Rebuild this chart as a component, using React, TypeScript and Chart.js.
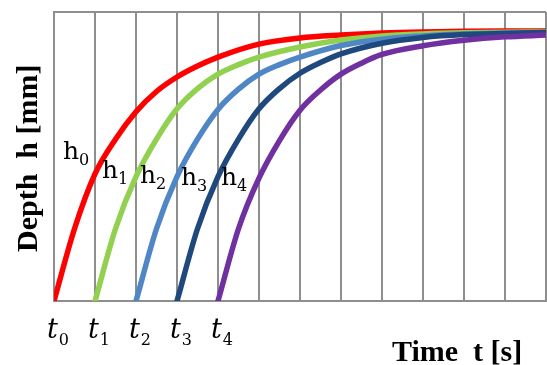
import React, { useEffect, useRef } from "react";
import { Chart, registerables } from "chart.js";

Chart.register(...registerables);

// Start times t0..t4 (grid units)
const startTimes = [0, 1, 2, 3, 4];
const subscripts = ["0", "1", "2", "3", "4"];

// Curve samples (time, depth as % of axis height)
const timesH0 = [0, 0.5, 1, 1.5, 2, 2.5, 3, 3.5, 4, 5, 6, 7, 8, 9, 10, 11, 12];
const depthH0 = [0, 25, 44, 56, 65.5, 72.5, 77.5, 81.3, 84.4, 88.9, 91.0, 92.0, 92.7, 93.1, 93.3, 93.4, 93.4];
const timesH1 = [1, 1.5, 2, 2.5, 3, 3.5, 4, 4.5, 5, 6, 7, 8, 9, 10, 11, 12];
const depthH1 = [0, 25, 43, 56, 66.5, 73.5, 78.5, 81.8, 84.4, 87.9, 90.3, 91.7, 92.4, 92.8, 93.0, 93.1];
const timesH2 = [2, 2.5, 3, 3.5, 4, 4.5, 5, 5.5, 6, 7, 8, 9, 10, 11, 12];
const depthH2 = [0, 25, 43, 56, 66.3, 73.3, 78.5, 81.8, 84.4, 88.4, 90.6, 91.7, 92.4, 92.7, 92.9];
const timesH3 = [3, 3.5, 4, 4.5, 5, 5.5, 6, 6.5, 7, 8, 9, 10, 11, 12];
const depthH3 = [0, 25, 43, 56, 66.5, 73.5, 78.8, 82.5, 85.5, 89.2, 91.2, 92.2, 92.6, 92.9];
const timesH4 = [4, 4.5, 5, 5.5, 6, 6.5, 7, 7.5, 8, 9, 10, 11, 12];
const depthH4 = [0, 25, 42.5, 55.5, 66, 73, 78.5, 82.3, 85.3, 88.3, 90.2, 91.4, 92.0];

const curveTimes = [timesH0, timesH1, timesH2, timesH3, timesH4];
const curveDepths = [depthH0, depthH1, depthH2, depthH3, depthH4];
const curveColors = ["#FF0000", "#92D050", "#4F86C6", "#1F497D", "#7030A0"];

const xTitle = "Time  t [s]";
const yTitle = "Depth  h [mm]";

const GRID = "#8E8E8E";

const textPlugin = {
  id: "textPlugin",
  afterDraw(chart: any) {
    const ctx = chart.ctx as CanvasRenderingContext2D;
    const xs = chart.scales.x;
    ctx.save();
    ctx.fillStyle = "#000";
    ctx.textBaseline = "alphabetic";
    ctx.textAlign = "left";
    // t_i tick labels
    startTimes.forEach((t, i) => {
      const px = xs.getPixelForValue(t);
      const x0 = px - 7;
      const base = 338;
      ctx.font = "italic 27px 'DejaVu Serif'";
      ctx.fillText("t", x0, base);
      const w = ctx.measureText("t").width;
      ctx.font = "16px 'DejaVu Serif'";
      ctx.fillText(subscripts[i], x0 + w + 1, base + 7);
    });
    // h_i curve labels
    const hOffX = [9, 7, 4, 4, 3];
    const hBase = [159, 178, 183, 185, 185];
    startTimes.forEach((t, i) => {
      const px = xs.getPixelForValue(t);
      const x0 = px + hOffX[i];
      ctx.font = "25px 'DejaVu Serif'";
      ctx.fillText("h", x0, hBase[i]);
      const w = ctx.measureText("h").width;
      ctx.font = "16px 'DejaVu Serif'";
      ctx.fillText(subscripts[i], x0 + w, hBase[i] + 6);
    });
    // axis titles
    ctx.font = "bold 30px 'Liberation Serif'";
    ctx.fillText(xTitle, 392, 361);
    ctx.translate(37, 252);
    ctx.rotate(-Math.PI / 2);
    ctx.fillText(yTitle, 0, 0);
    ctx.restore();
  },
};

export default function App() {
  const ref = useRef<HTMLCanvasElement>(null);
  useEffect(() => {
    const datasets = curveTimes.map((times, i) => ({
      label: "h" + subscripts[i],
      data: times.map((t, j) => ({ x: t, y: curveDepths[i][j] })),
      borderColor: curveColors[i],
      backgroundColor: curveColors[i],
      borderWidth: 5.5,
      borderCapStyle: "round" as const,
      pointRadius: 0,
      cubicInterpolationMode: "monotone" as const,
      fill: false,
      order: 4 - i,
    }));
    const chart = new Chart(ref.current!, {
      type: "line",
      data: { datasets },
      options: {
        animation: false,
        responsive: false,
        maintainAspectRatio: false,
        layout: { padding: { left: 54, top: 12, right: 1, bottom: 64 } },
        plugins: { legend: { display: false }, tooltip: { enabled: false } },
        scales: {
          x: {
            type: "linear",
            min: 0,
            max: 12,
            ticks: { display: false, stepSize: 1 },
            grid: { color: GRID, lineWidth: 2, drawTicks: false },
            border: { display: true, color: GRID, width: 2 },
          },
          y: {
            type: "linear",
            min: 0,
            max: 100,
            ticks: { display: false, stepSize: 100 },
            grid: {
              color: (c: any) => (c.tick && c.tick.value === 100 ? GRID : "rgba(0,0,0,0)"),
              lineWidth: 2,
              drawTicks: false,
            },
            border: { display: true, color: GRID, width: 2 },
          },
        },
      },
      plugins: [textPlugin],
    });
    return () => chart.destroy();
  }, []);
  return (
    <div style={{ position: "fixed", left: 0, top: 0, width: 547, height: 365, background: "#fff" }}>
      <canvas ref={ref} width={547} height={365} style={{ width: 547, height: 365, display: "block" }} />
    </div>
  );
}
